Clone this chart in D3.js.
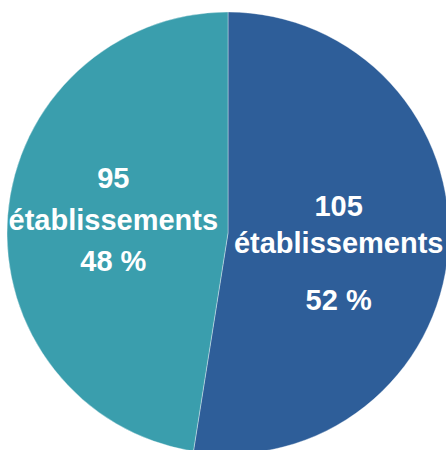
<!DOCTYPE html>
<html>
<head>
<meta charset="utf-8">
<script src="https://cdn.jsdelivr.net/npm/d3@7"></script>
<style>
  html, body { margin: 0; padding: 0; background: #fff; }
  svg { display: block; }
</style>
</head>
<body>
<div id="chart-area"></div>
<script>
// establishment counts per group
let categories = ['groupe A', 'groupe B'];
let counts = [105, 95];
let percentLabels = ['52 %', '48 %'];
let unitLabel = 'établissements';

let width = 446;
let height = 450;
let center = { x: 228, y: 233 };
let radius = 221;
let labelRadius = 113;
let labelShiftX = -2;
let colors = ['#2e5e99', '#3a9ead'];
// baseline offsets (count, unit, percent) relative to label anchor
let lineOffsets = [
  [-26, 11, 68],
  [-36, 6, 47],
];

let chart = d3
  .select('#chart-area')
  .append('svg')
  .attr('width', width)
  .attr('height', height);

let pie = d3.pie().sort(null).value((d) => d)(counts);
let arc = d3.arc().innerRadius(0).outerRadius(radius);
let labelArc = d3.arc().innerRadius(labelRadius).outerRadius(labelRadius);

let g = chart.append('g').attr('transform', `translate(${center.x},${center.y})`);

//slices
g.selectAll('path')
  .data(pie)
  .enter()
  .append('path')
  .attr('d', arc)
  .attr('fill', (d, i) => colors[i])
  .attr('stroke', 'rgba(255,255,255,0.45)')
  .attr('stroke-width', 0.8);

//labels
let labels = g
  .selectAll('g.label')
  .data(pie)
  .enter()
  .append('g')
  .attr('class', 'label')
  .attr('transform', (d) => {
    let c = labelArc.centroid(d);
    return `translate(${c[0] + labelShiftX},${c[1]})`;
  })
  .style('text-anchor', 'middle')
  .style('font-family', '"Liberation Sans", Arial, sans-serif')
  .style('font-weight', 'bold')
  .style('font-size', '29px')
  .style('fill', '#fff');

labels.each(function (d, i) {
  let lines = [String(counts[i]), unitLabel, percentLabels[i]];
  d3.select(this)
    .selectAll('text')
    .data(lines)
    .enter()
    .append('text')
    .attr('y', (t, j) => lineOffsets[i][j])
    .text((t) => t);
});
</script>
</body>
</html>
